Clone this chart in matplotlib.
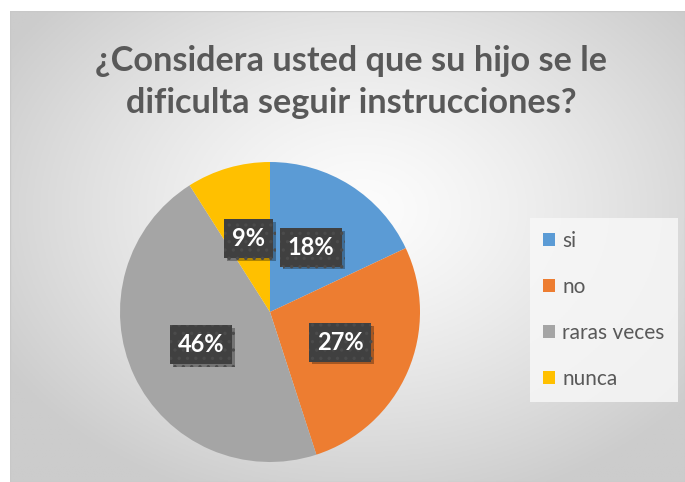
import numpy as np
import matplotlib
matplotlib.use("Agg")
import matplotlib.pyplot as plt
import matplotlib.patheffects as pe

categories = ["si", "no", "raras veces", "nunca"]
values = [18, 27, 46, 9]
colors = ["#5B9BD5", "#ED7D31", "#A5A5A5", "#FFC000"]
title = "¿Considera usted que su hijo se le\ndificulta seguir instrucciones?"

plt.rcParams['font.family'] = ['Lato', 'DejaVu Sans']
plt.rcParams['hatch.linewidth'] = 1.2

W, H = 685, 482
fig = plt.figure(figsize=(W / 100, H / 100), dpi=100)
fig.patch.set_facecolor("white")

# background gradient
bg = fig.add_axes([10 / W, 0, (W - 10) / W, (H - 11) / H])
ny, nx = 200, 300
yy, xx = np.mgrid[0:ny, 0:nx]
cx, cy = nx * 0.52, ny * 0.42
r = np.sqrt(((xx - cx) / nx) ** 2 + ((yy - cy) / ny) ** 2 * 0.9)
r = np.clip(r / 0.62, 0, 1)
val = 0.99 - (0.99 - 0.80) * r ** 1.3
img = np.dstack([val, val, val])
bg.imshow(img, aspect="auto", extent=[0, 1, 0, 1], origin="upper")
bg.set_axis_off()
bg.add_patch(plt.Rectangle((0, 0), 1, 1, transform=bg.transAxes, fill=False,
                           ec="#c8c8c8", lw=1))

fig.text(351 / W, 1 - 82 / H, title, ha="center", va="center", fontsize=24.7,
         fontweight="bold", color="#595959", linespacing=1.4)

ax = fig.add_axes([120 / W, 20 / H, 300 / W, 300 / H])
wedges, texts, autotexts = ax.pie(values, colors=colors, startangle=90,
                                  counterclock=False, autopct="%d%%",
                                  pctdistance=0.51,
                                  textprops=dict(color="white", fontsize=17,
                                                 fontweight="bold"))
ax.set_xlim(-1, 1)
ax.set_ylim(-1, 1)
ax.set_aspect("equal")
for t in autotexts:
    t.set_bbox(dict(boxstyle="square,pad=0.33", fc="#404040", ec="#4b4b4b",
                    lw=0, hatch=".."))
    t.get_bbox_patch().set_path_effects([
        pe.SimplePatchShadow(offset=(2, -2), shadow_rgbFace="#000000", alpha=0.3),
        pe.Normal()])

leg = fig.legend(wedges, categories, loc="upper left",
                 bbox_to_anchor=(530 / W, 1 - 218 / H), frameon=True,
                 fontsize=15, labelspacing=1.25, handlelength=0.6,
                 handleheight=0.6, handletextpad=0.33, borderpad=0.62,
                 borderaxespad=0, fancybox=False)
leg.get_frame().set_facecolor("#f7f7f7")
leg.get_frame().set_edgecolor("none")
leg.get_frame().set_alpha(0.85)
for t in leg.get_texts():
    t.set_color("#595959")

fig.savefig("out.png", dpi=100)
